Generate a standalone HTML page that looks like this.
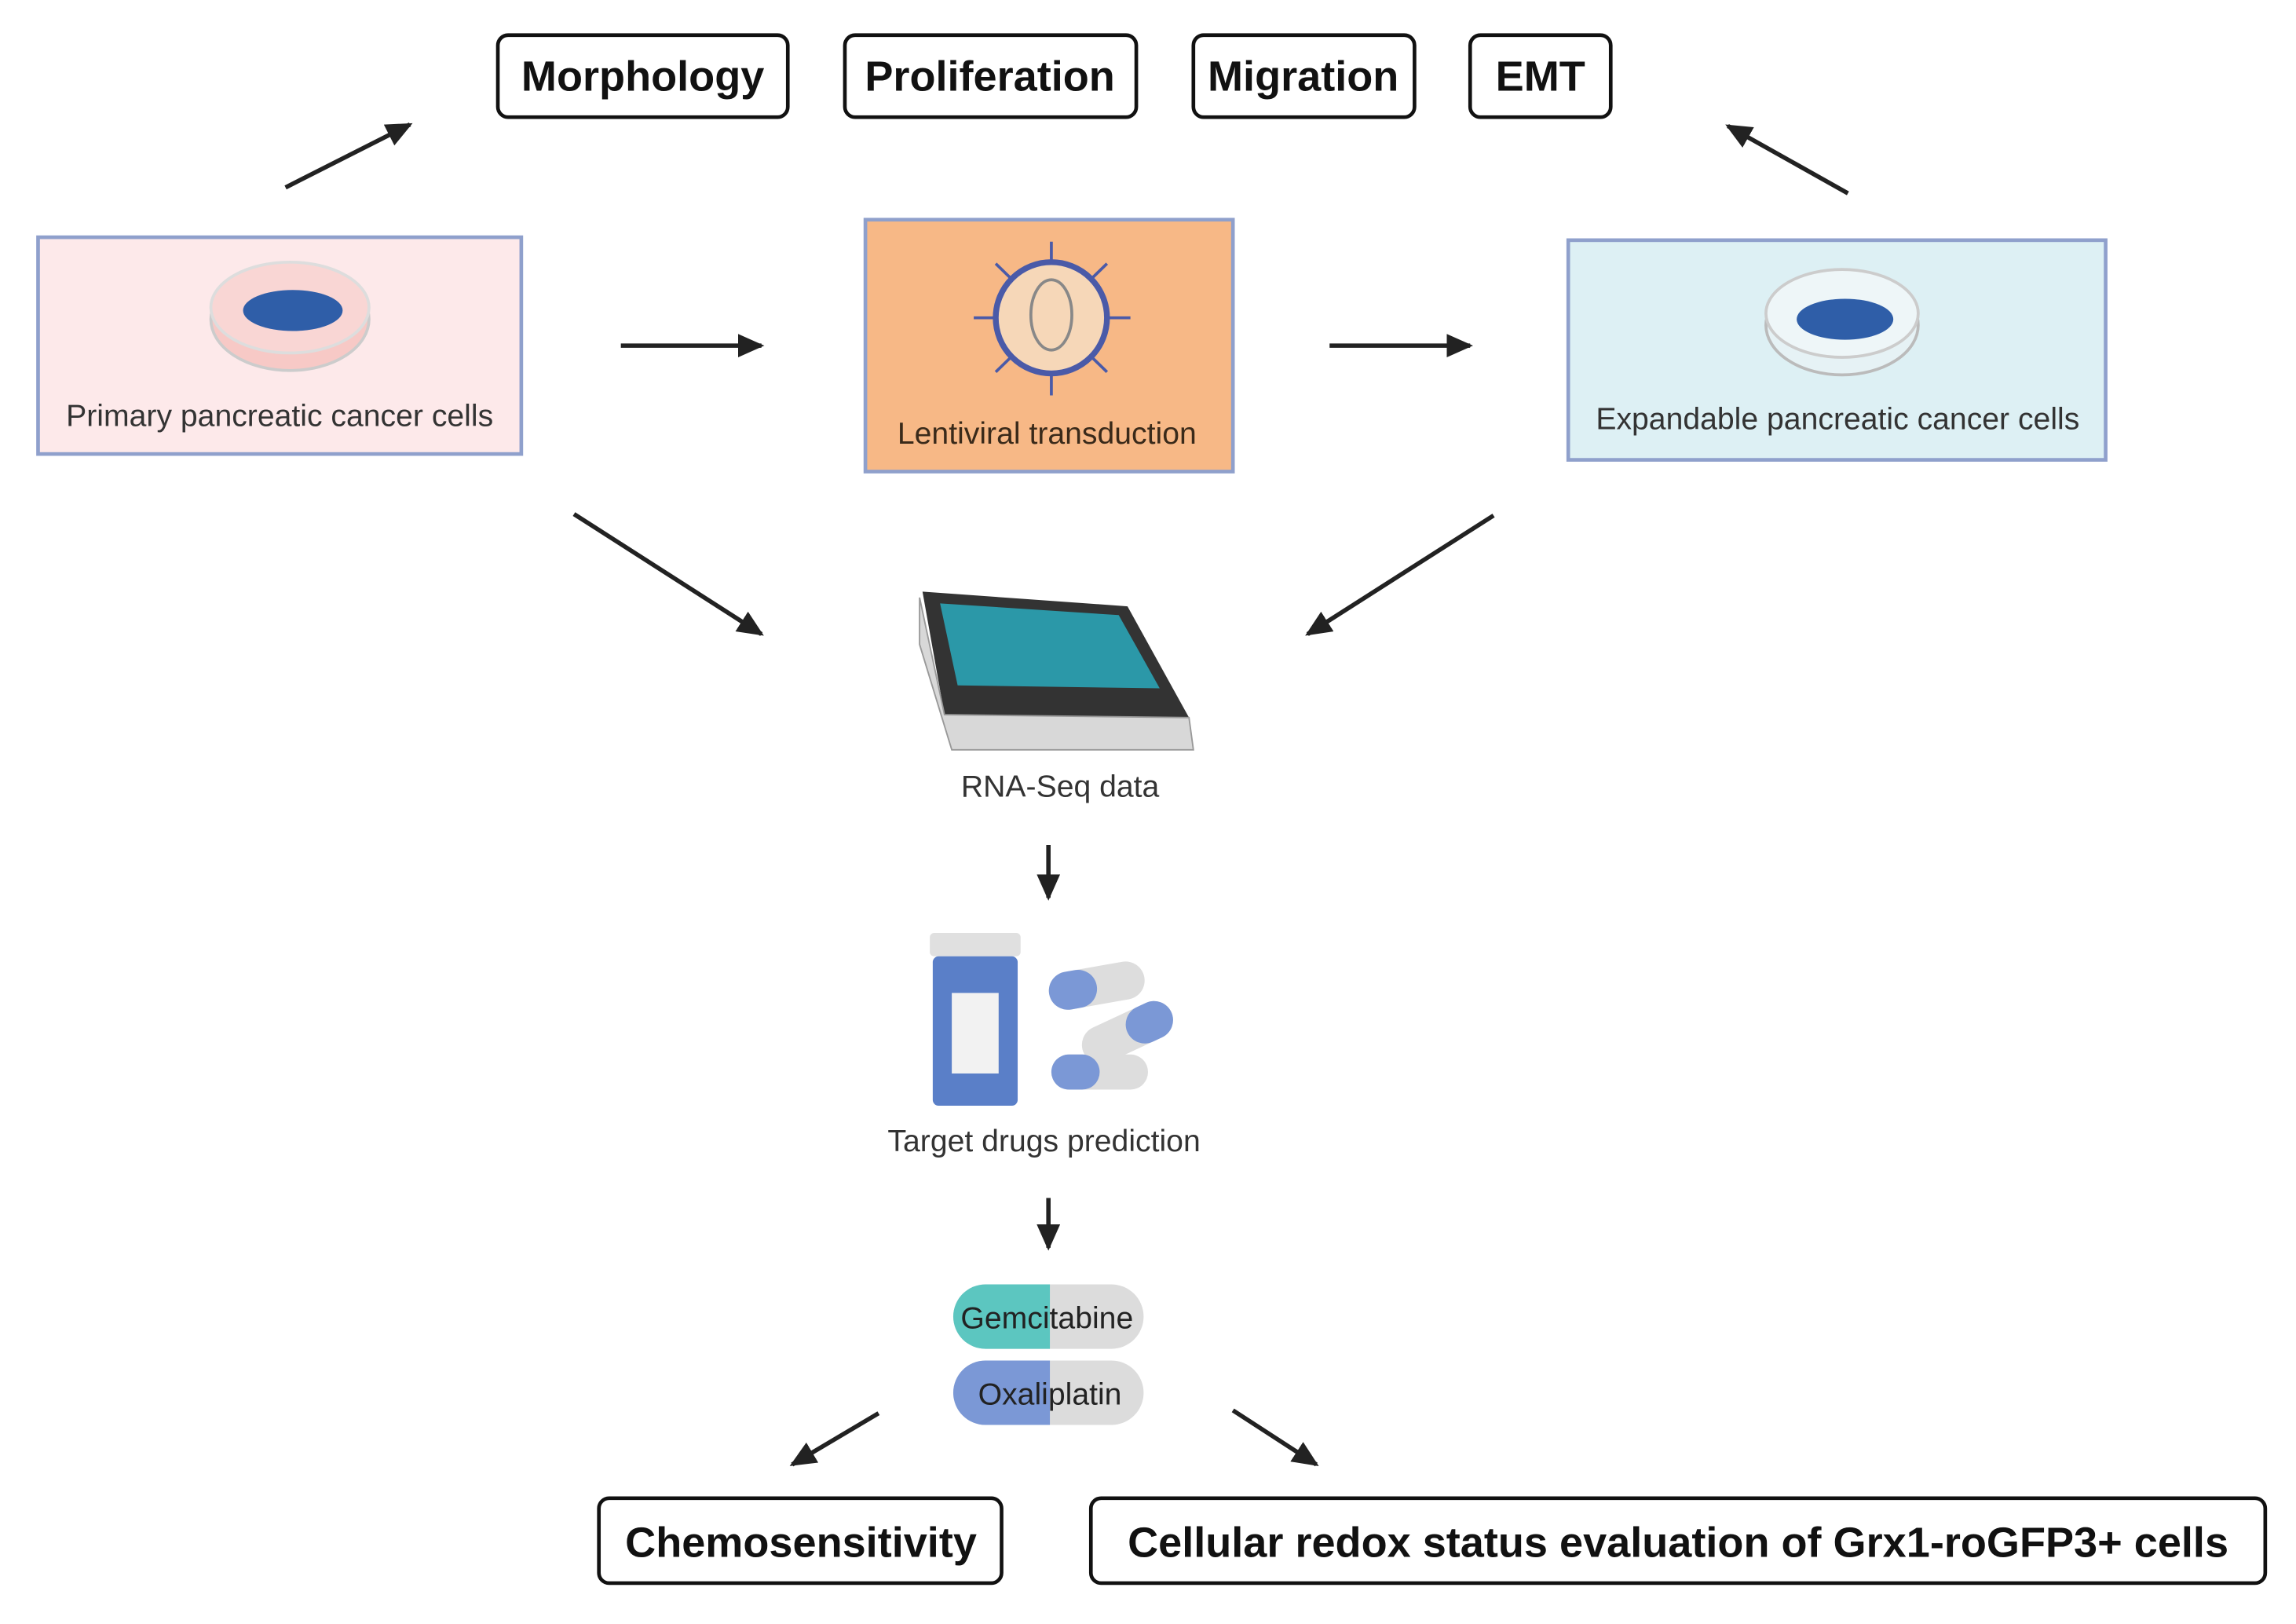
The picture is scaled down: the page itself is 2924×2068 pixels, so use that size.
<!DOCTYPE html>
<html><head><meta charset="utf-8"><style>
html,body{margin:0;padding:0;background:#fff;}
svg{display:block;}
text{font-family:"Liberation Sans",sans-serif;}
</style></head><body>
<svg width="2924" height="2068" viewBox="0 0 1568 1108.9" preserveAspectRatio="none" xmlns="http://www.w3.org/2000/svg">
<defs>
<marker id="ah2" markerWidth="18" markerHeight="16" refX="16" refY="8" orient="auto" markerUnits="userSpaceOnUse" viewBox="0 0 18 16">
<path d="M0,0 L18,8 L0,16 z" fill="#222"/></marker>
</defs>
<rect width="1600" height="1120" fill="#fff"/>
<g fill="#fff" stroke="#111" stroke-width="2.5">
<rect x="340" y="24" width="198" height="56" rx="7"/>
<rect x="577" y="24" width="199" height="56" rx="7"/>
<rect x="815" y="24" width="151" height="56" rx="7"/>
<rect x="1004" y="24" width="96" height="56" rx="7"/>
<rect x="409" y="1023" width="275" height="58" rx="7"/>
<rect x="745" y="1023" width="802" height="58" rx="7"/>
</g>
<g font-weight="bold" font-size="29" fill="#111" text-anchor="middle">
<text x="439" y="62">Morphology</text>
<text x="676" y="62">Proliferation</text>
<text x="890" y="62">Migration</text>
<text x="1052" y="62">EMT</text>
<text x="547" y="1063">Chemosensitivity</text>
<text x="1146" y="1063">Cellular redox status evaluation of Grx1-roGFP3+ cells</text>
</g>
<g stroke="#222" stroke-width="3" fill="none" marker-end="url(#ah2)">
<line x1="195" y1="128" x2="280" y2="85"/>
<line x1="1262" y1="132" x2="1180" y2="86"/>
<line x1="424" y1="236" x2="520" y2="236"/>
<line x1="908" y1="236" x2="1004" y2="236"/>
<line x1="392" y1="351" x2="520" y2="433"/>
<line x1="1020" y1="352" x2="893" y2="433"/>
<line x1="716" y1="577" x2="716" y2="613"/>
<line x1="716" y1="818" x2="716" y2="852"/>
<line x1="600" y1="965" x2="541" y2="1000"/>
<line x1="842" y1="963" x2="899" y2="1000"/>
</g>
<rect x="26" y="162" width="330" height="148" fill="#fde9ea" stroke="#8fa0cc" stroke-width="2.5"/>
<rect x="591" y="150" width="251" height="172" fill="#f7b886" stroke="#8fa0cc" stroke-width="2.5"/>
<rect x="1071" y="164" width="367" height="150" fill="#ddf0f4" stroke="#8fa0cc" stroke-width="2.5"/>
<g font-size="21" fill="#333" text-anchor="middle">
<text x="191" y="291">Primary pancreatic cancer cells</text>
<text x="715" y="303" fill="#3a2a1a">Lentiviral transduction</text>
<text x="1255" y="293">Expandable pancreatic cancer cells</text>
<text x="724" y="544">RNA-Seq data</text>
<text x="713" y="786">Target drugs prediction</text>
</g>
<ellipse cx="198" cy="218" rx="54" ry="35" fill="#f7c9c6" stroke="#ccc" stroke-width="2"/>
<ellipse cx="198" cy="210" rx="54" ry="31" fill="#f9d6d4" stroke="#ddd" stroke-width="2"/>
<ellipse cx="200" cy="212" rx="34" ry="14" fill="#2f5ea8"/>
<ellipse cx="1258" cy="222" rx="52" ry="34" fill="#e6f2f5" stroke="#bbb" stroke-width="2"/>
<ellipse cx="1258" cy="214" rx="52" ry="30" fill="#eef6f8" stroke="#ccc" stroke-width="2"/>
<ellipse cx="1260" cy="218" rx="33" ry="14" fill="#2f5ea8"/>
<g stroke="#4a5aa8" stroke-width="2">
<line x1="718" y1="165" x2="718" y2="270"/>
<line x1="665" y1="217" x2="772" y2="217"/>
<line x1="680" y1="180" x2="756" y2="254"/>
<line x1="756" y1="180" x2="680" y2="254"/>
</g>
<circle cx="718" cy="217" r="38" fill="#f6d7b8" stroke="#4a5aa8" stroke-width="4"/>
<ellipse cx="718" cy="215" rx="14" ry="24" fill="none" stroke="#888" stroke-width="2"/>
<polygon points="630,404 770,414 812,490 645,488" fill="#333"/>
<polygon points="642,412 764,420 792,470 654,468" fill="#2b98a8"/>
<polygon points="628,408 645,488 812,490 815,512 650,512 628,440" fill="#d8d8d8" stroke="#999"/>
<rect x="635" y="637" width="62" height="16" rx="3" fill="#e0e0e0"/>
<rect x="637" y="653" width="58" height="102" rx="4" fill="#5a7fc8"/>
<rect x="650" y="678" width="32" height="55" fill="#f2f2f2"/>
<rect x="716" y="660" width="66" height="26" rx="13" fill="#ddd" transform="rotate(-10 749 673)"/>
<rect x="716" y="660" width="33" height="26" rx="13" fill="#7b98d6" transform="rotate(-10 749 673)"/>
<rect x="737" y="692" width="66" height="26" rx="13" fill="#ddd" transform="rotate(-25 770 705)"/>
<rect x="770" y="692" width="33" height="26" rx="13" fill="#7b98d6" transform="rotate(-25 770 705)"/>
<rect x="718" y="720" width="66" height="24" rx="12" fill="#ddd"/>
<rect x="718" y="720" width="33" height="24" rx="12" fill="#7b98d6"/>
<rect x="651" y="877" width="130" height="44" rx="22" fill="#dcdcdc"/>
<path d="M673,877 H717 V921 H673 A22,22 0 0 1 673,877 z" fill="#5cc6c0"/>
<rect x="651" y="929" width="130" height="44" rx="22" fill="#dcdcdc"/>
<path d="M673,929 H717 V973 H673 A22,22 0 0 1 673,929 z" fill="#7b98d6"/>
<g font-size="21" fill="#222" text-anchor="middle">
<text x="715" y="907">Gemcitabine</text>
<text x="717" y="959">Oxaliplatin</text>
</g>
</svg>
</body></html>
